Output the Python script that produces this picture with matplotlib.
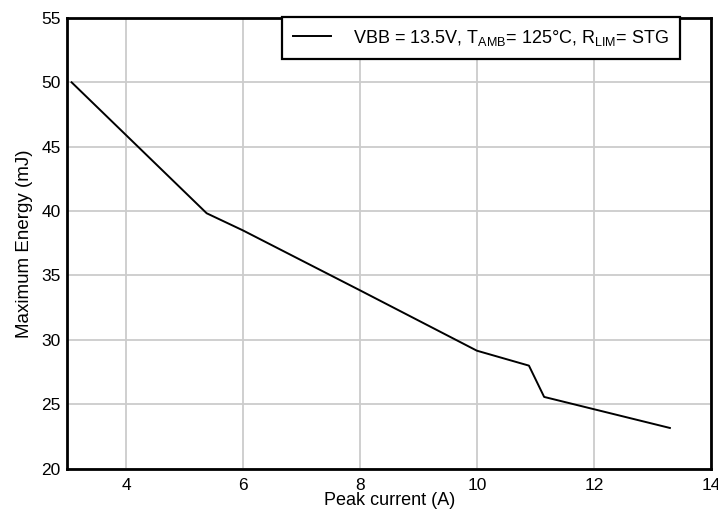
import matplotlib
matplotlib.use("Agg")
import matplotlib.pyplot as plt

# Maximum energy vs peak current curve
peak_current = [3.07, 5.38, 6.0, 8.0, 10.0, 10.89, 11.15, 13.3]
max_energy = [50.0, 39.83, 38.5, 33.85, 29.16, 28.0, 25.57, 23.16]

x_ticks = [4, 6, 8, 10, 12, 14]
y_ticks = [20, 25, 30, 35, 40, 45, 50, 55]

plt.rcParams["font.family"] = ["Liberation Sans", "DejaVu Sans"]
plt.rcParams["mathtext.fontset"] = "custom"
plt.rcParams["mathtext.rm"] = "Liberation Sans"

fig = plt.figure(figsize=(7.18, 5.19), dpi=100)
ax = fig.add_axes([0.094, 0.097, 0.896, 0.8685])

label = r"VBB = 13.5V, T$_{\mathrm{AMB}}$= 125°C, R$_{\mathrm{LIM}}$= STG"
ax.plot(peak_current, max_energy, color="black", lw=1.4, label=label)

ax.set_xlim(3, 14)
ax.set_ylim(20, 55)
ax.set_xticks(x_ticks)
ax.set_yticks(y_ticks)
ax.tick_params(length=0, labelsize=12.5)
ax.tick_params(axis="y", pad=5)
ax.tick_params(axis="x", pad=7)
ax.grid(True, color="#cccccc", lw=1.3)
ax.set_axisbelow(True)
for sp in ax.spines.values():
    sp.set_linewidth(2.0)
    sp.set_color("black")

ax.set_xlabel("Peak current (A)", fontsize=13, labelpad=-1)
ax.set_ylabel("Maximum Energy (mJ)", fontsize=13.5, labelpad=6)

leg = ax.legend(loc="upper right", bbox_to_anchor=(0.952, 1.003), fontsize=13,
                frameon=True, fancybox=False, borderpad=0.62, handlelength=2.1,
                handletextpad=1.2, borderaxespad=0)
leg.get_frame().set_edgecolor("black")
leg.get_frame().set_linewidth(1.6)
leg.get_frame().set_alpha(1)

fig.savefig("out.png", dpi=100)
